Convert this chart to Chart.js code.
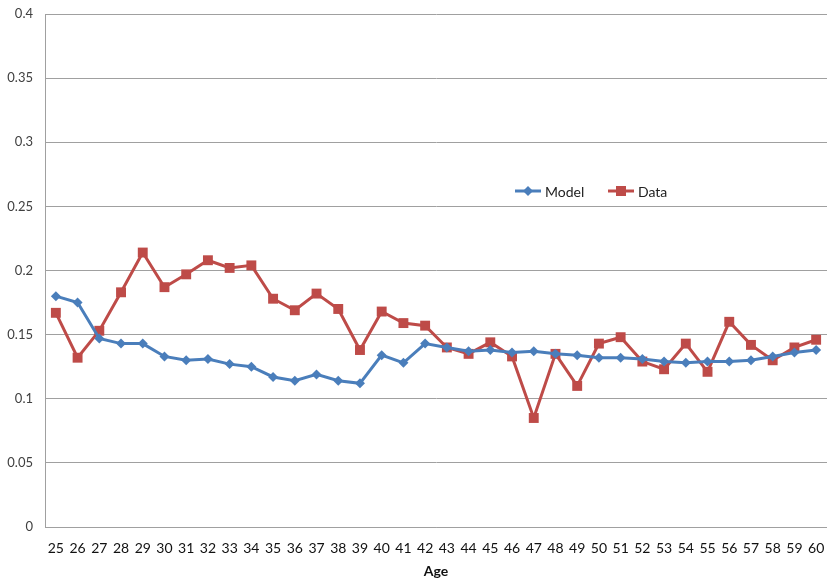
<!DOCTYPE html>
<html>
<head>
<meta charset="utf-8">
<script src="https://cdn.jsdelivr.net/npm/chart.js@4/dist/chart.umd.min.js"></script>
<style>
html,body{margin:0;padding:0;background:#fff;overflow:hidden;}
#wrap{width:827px;height:578px;overflow:hidden;position:relative;}
canvas{display:block;}
</style>
</head>
<body>
<div id="wrap"><canvas id="c" width="834" height="578"></canvas></div>
<script>
const ages = ["25","26","27","28","29","30","31","32","33","34","35","36","37","38","39","40","41","42","43","44","45","46","47","48","49","50","51","52","53","54","55","56","57","58","59","60"];
const modelValues = [0.180,0.175,0.147,0.143,0.143,0.133,0.130,0.131,0.127,0.125,0.117,0.114,0.119,0.114,0.112,0.134,0.128,0.143,0.140,0.137,0.138,0.136,0.137,0.135,0.134,0.132,0.132,0.131,0.129,0.128,0.129,0.129,0.130,0.133,0.136,0.138];
const dataValues = [0.167,0.132,0.153,0.183,0.214,0.187,0.197,0.208,0.202,0.204,0.178,0.169,0.182,0.170,0.138,0.168,0.159,0.157,0.140,0.135,0.144,0.133,0.085,0.135,0.110,0.143,0.148,0.129,0.123,0.143,0.121,0.160,0.142,0.130,0.140,0.146];
const seriesNames = ["Model","Data"];
const xTitle = "Age";

const BLUE = '#4A7EBB';
const RED = '#BE4B48';
const GRID = '#a0a0a0';
const TXT = '#404040';
const FONT = 'Lato, "Open Sans", sans-serif';

const legendPlugin = {
  id: 'customLegend',
  afterDraw(chart) {
    const ctx = chart.ctx;
    const y = 191;
    const items = [
      {x: 515, color: BLUE, shape: 'diamond', label: seriesNames[0]},
      {x: 608, color: RED, shape: 'square', label: seriesNames[1]}
    ];
    ctx.save();
    items.forEach(it => {
      ctx.strokeStyle = it.color;
      ctx.lineWidth = 3;
      ctx.beginPath();
      ctx.moveTo(it.x, y);
      ctx.lineTo(it.x + 26, y);
      ctx.stroke();
      ctx.fillStyle = it.color;
      const cx = it.x + 13;
      if (it.shape === 'diamond') {
        ctx.beginPath();
        ctx.moveTo(cx, y - 5);
        ctx.lineTo(cx + 5, y);
        ctx.lineTo(cx, y + 5);
        ctx.lineTo(cx - 5, y);
        ctx.closePath();
        ctx.fill();
      } else {
        ctx.fillRect(cx - 5, y - 5, 10, 10);
      }
      ctx.fillStyle = '#222';
      ctx.font = '14px ' + FONT;
      ctx.textBaseline = 'middle';
      ctx.textAlign = 'left';
      ctx.fillText(it.label, it.x + 30, y + 1);
    });
    ctx.restore();
  }
};

new Chart(document.getElementById('c'), {
  type: 'line',
  data: {
    labels: ages,
    datasets: [
      {
        label: seriesNames[0],
        data: modelValues,
        borderColor: BLUE,
        backgroundColor: BLUE,
        borderWidth: 3,
        pointStyle: 'rectRot',
        pointRadius: 5,
        pointHoverRadius: 5,
        pointBorderWidth: 0,
        tension: 0
      },
      {
        label: seriesNames[1],
        data: dataValues,
        borderColor: RED,
        backgroundColor: RED,
        borderWidth: 3,
        pointStyle: 'rect',
        pointRadius: 7,
        pointHoverRadius: 7,
        pointBorderWidth: 0,
        tension: 0
      }
    ]
  },
  options: {
    responsive: false,
    animation: false,
    layout: {padding: {top: 14, right: 0, left: 0, bottom: 0}},
    plugins: {
      legend: {display: false},
      tooltip: {enabled: false}
    },
    scales: {
      x: {
        offset: true,
        grid: {display: false, drawTicks: true, tickLength: 13},
        border: {display: true, color: GRID, width: 1},
        ticks: {color: '#111', font: {family: FONT, size: 14}, padding: 0, maxRotation: 0, autoSkip: false},
        title: {display: true, text: xTitle, color: '#111', font: {family: FONT, size: 14, weight: 'bold'}, padding: {top: 4, bottom: -2}},
        afterFit(scale) { scale.height = 51; scale.paddingLeft = 0; scale.paddingRight = 0; }
      },
      y: {
        min: 0,
        max: 0.4,
        grid: {color: GRID, drawTicks: false, lineWidth: 1},
        border: {display: true, color: GRID, width: 1},
        ticks: {
          stepSize: 0.05,
          color: TXT,
          font: {family: FONT, size: 13},
          padding: 12,
          callback: v => Number(v.toFixed(2)).toString()
        },
        afterFit(scale) { scale.width = 45; scale.paddingTop = 0; scale.paddingBottom = 0; }
      }
    }
  },
  plugins: [legendPlugin]
});
</script>
</body>
</html>
